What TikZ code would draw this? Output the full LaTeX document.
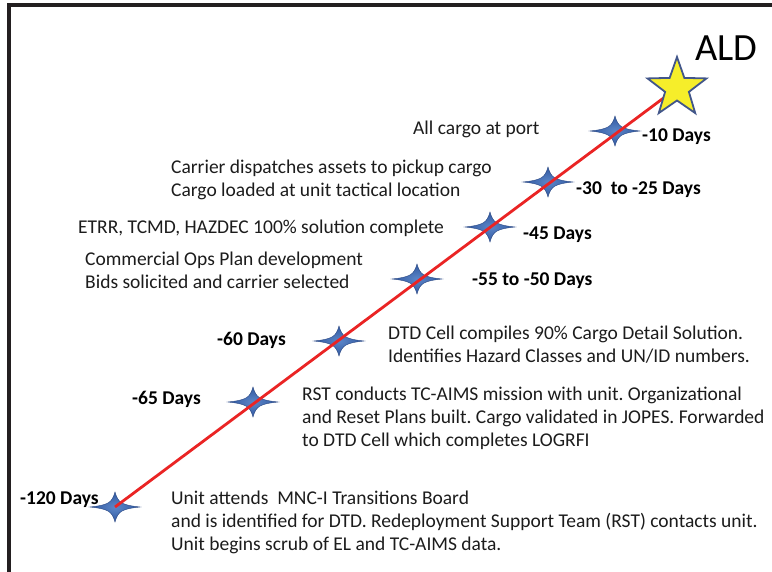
\documentclass[tikz,border=0pt]{standalone}
\usepackage{fontspec}
\setmainfont{Carlito}
\frenchspacing
\definecolor{framegray}{RGB}{35,31,32}
\definecolor{linered}{RGB}{234,36,36}
\definecolor{starlight}{RGB}{92,134,200}
\definecolor{starblue}{RGB}{48,88,160}
\definecolor{stardark}{RGB}{40,70,130}
\definecolor{staryellow}{RGB}{246,238,42}
\definecolor{staredge}{RGB}{66,86,138}
\definecolor{txt}{RGB}{28,28,28}
\begin{document}
\begin{tikzpicture}[x=1pt,y=-1pt,
  note/.style={anchor=base west, inner sep=0pt, align=left, text=txt,
    font=\fontsize{19.5}{23}\selectfont},
  daylabel/.style={anchor=base west, inner sep=0pt, text=black,
    font=\bfseries\fontsize{19.5}{23}\selectfont},
  fourstar/.pic={
    \shade[inner color=starlight, outer color=starblue, draw=stardark, line width=0.4pt]
      (25,0) .. controls (7,-2) and (3,-4) .. (0,-15)
      .. controls (-3,-4) and (-7,-2) .. (-25,0)
      .. controls (-7,2) and (-3,4) .. (0,15)
      .. controls (3,4) and (7,2) .. (25,0) -- cycle;
  }
]
% canvas and frame
\fill[white] (0,0) rectangle (772,571);
\useasboundingbox (0,0) rectangle (772,571);
\draw[framegray, line width=4pt, line join=miter] (9,575) -- (9,5.3) -- (776,5.3);

% milestones along the timeline
\coordinate (s120) at (115,507);
\coordinate (s65)  at (253,402);
\coordinate (s60)  at (339,341);
\coordinate (s55)  at (417,279);
\coordinate (s45)  at (490,227);
\coordinate (s30)  at (548,182);
\coordinate (s10)  at (615,131);
\coordinate (aldstar) at (677,88);

\foreach \p in {s120,s65,s60,s55,s45,s30,s10}
  \pic at (\p) {fourstar};

% timeline
\draw[linered, line width=2.8pt] (s120) -- (aldstar);

% arrival star
\draw[staredge, line width=1.8pt, fill=staryellow, line join=miter]
  ([shift={(-90:31)}]aldstar)
  \foreach \k in {0,...,4} {
    -- ([shift={(-54+72*\k:12.5)}]aldstar)
    -- ([shift={(-18+72*\k:31)}]aldstar)
  } -- cycle;

\node[anchor=base west, inner sep=0pt, text=black,
  font=\fontsize{38.5}{40}\selectfont] (ald) at (695,60) {ALD};

% day labels
\node[daylabel] (d10)  at (642,141) {-10 Days};
\node[daylabel] (d30)  at (576,194) {-30\ \ to -25 Days};
\node[daylabel] (d45)  at (523,239) {-45 Days};
\node[daylabel] (d55)  at (472,285) {-55 to -50 Days};
\node[daylabel] (d60)  at (217,345) {-60 Days};
\node[daylabel] (d65)  at (132,404) {-65 Days};
\node[daylabel] (d120) at (20,504)  {-120 Days};

% event descriptions (base anchor sits on the last line)
\node[note] (n10) at (413,134) {All cargo at port};
\node[note] (n30) at (171,196) {Carrier dispatches assets to pickup cargo\\Cargo loaded at unit tactical location};
\node[note] (n45) at (78,233) {ETRR, TCMD, HAZDEC 100\% solution complete};
\node[note] (n55) at (85,288) {Commercial Ops Plan development\\Bids solicited and carrier selected};
\node[note] (n60) at (388,362) {DTD Cell compiles 90\% Cargo Detail Solution.\\Identifies Hazard Classes and UN/ID numbers.};
\node[note] (n65) at (302,446) {RST conducts TC-AIMS mission with unit. Organizational\\and Reset Plans built. Cargo validated in JOPES. Forwarded\\to DTD Cell which completes LOGRFI};
\node[note] (n120) at (171,550) {Unit attends\ \ MNC-I Transitions Board\\and is identified for DTD. Redeployment Support Team (RST) contacts unit.\\Unit begins scrub of EL and TC-AIMS data.};
\end{tikzpicture}
\end{document}
